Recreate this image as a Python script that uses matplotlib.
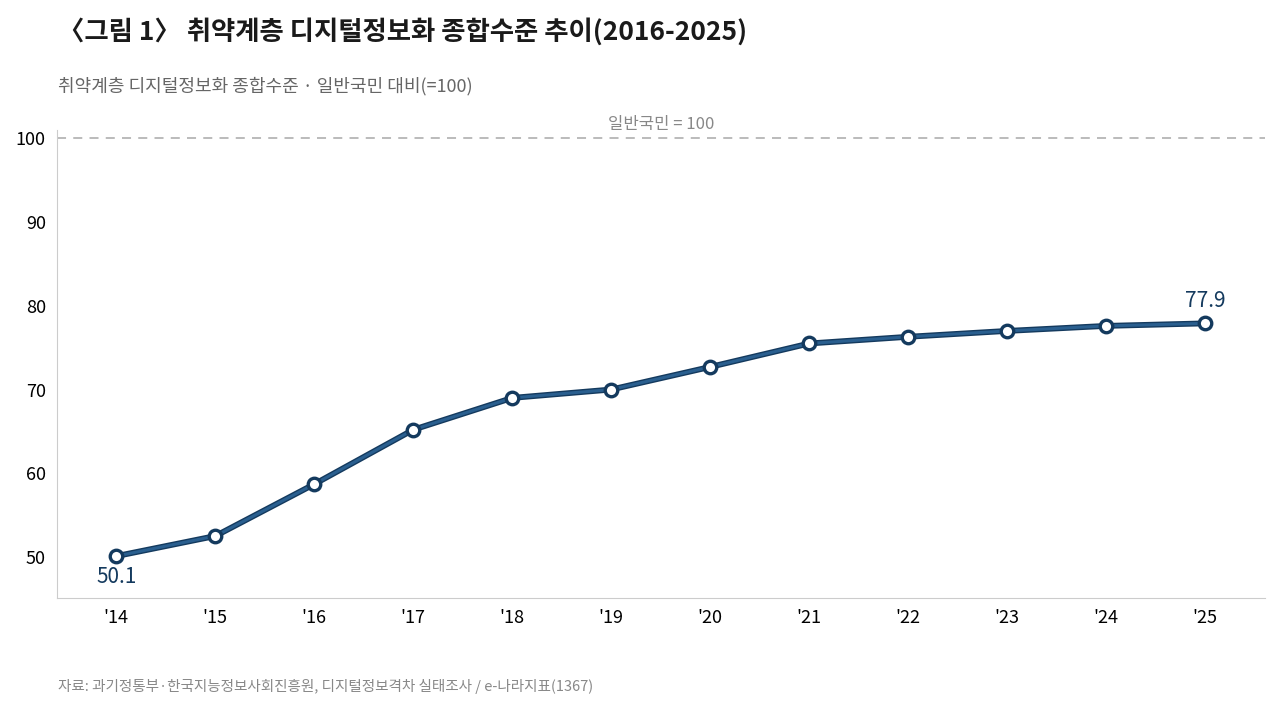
import matplotlib
matplotlib.use("Agg")
import matplotlib.pyplot as plt

plt.rcParams['font.family'] = ['Noto Sans CJK KR', 'DejaVu Sans']

years = ["'14", "'15", "'16", "'17", "'18", "'19", "'20", "'21", "'22", "'23", "'24", "'25"]
values = [50.1, 52.5, 58.7, 65.2, 69.0, 70.0, 72.7, 75.5, 76.3, 77.0, 77.6, 77.9]

fig = plt.figure(figsize=(12.8, 7.08), dpi=100)
ax = fig.add_axes([0.0445, 0.1554, 0.9435, 0.661])
x = list(range(len(years)))

ax.axhline(100, color="#b5b5b5", linestyle=(0, (5, 4)), linewidth=1.3)
ax.text(5.5, 100.6, "일반국민 = 100", ha="center", va="bottom", fontsize=12, color="#888888")

ax.plot(x, values, color="#143a5e", linewidth=4.2, solid_capstyle="round", zorder=2)
ax.plot(x, values, color="#2a5f8f", linewidth=2.2, zorder=3,
        marker="o", markersize=9, markerfacecolor="white",
        markeredgecolor="#143a5e", markeredgewidth=2.4)

ax.text(x[0], values[0] - 1.2, "50.1", ha="center", va="top", fontsize=15, color="#143a5e")
ax.text(x[-1], values[-1] + 1.4, "77.9", ha="center", va="bottom", fontsize=15, color="#143a5e")

ax.set_xlim(-0.6, 11.6)
ax.set_ylim(45.1, 101)
ax.set_xticks(x)
ax.set_xticklabels(years, fontsize=13)
ax.set_yticks([50, 60, 70, 80, 90, 100])
ax.tick_params(axis="both", length=0, labelsize=13, pad=8)
for s in ["top", "right"]:
    ax.spines[s].set_visible(False)
for s in ["left", "bottom"]:
    ax.spines[s].set_color("#cccccc")

fig.text(0.045, 0.955, "〈그림 1〉 취약계층 디지털정보화 종합수준 추이(2016-2025)",
         fontsize=19, fontweight="bold", color="#1a1a1a", va="center")
fig.text(0.045, 0.878, "취약계층 디지털정보화 종합수준 · 일반국민 대비(=100)",
         fontsize=13, color="#666666", va="center")
fig.text(0.045, 0.03, "자료: 과기정통부·한국지능정보사회진흥원, 디지털정보격차 실태조사 / e-나라지표(1367)",
         fontsize=10.5, color="#888888", va="center")

fig.savefig("out.png", dpi=100)
